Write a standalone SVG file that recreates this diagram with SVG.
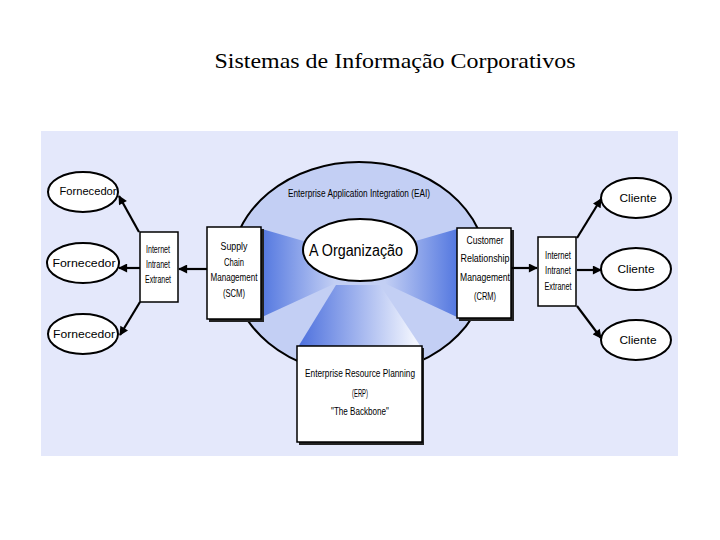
<svg xmlns="http://www.w3.org/2000/svg" width="720" height="540" viewBox="0 0 720 540">
<style>
.t{font-family:"Liberation Sans",Arial,sans-serif;font-size:11px;fill:#000;text-anchor:middle}
.box{fill:#fff;stroke:#000;stroke-width:1.5}
.sh{fill:#222}
.oval{fill:#fff;stroke:#000;stroke-width:2}
.con{stroke:#000;stroke-width:2.2;fill:none;marker-end:url(#ah)}
</style>
<defs>
<marker id="ah" viewBox="0 0 10 10" refX="9" refY="5" markerWidth="10" markerHeight="9" markerUnits="userSpaceOnUse" orient="auto">
<path d="M0,0 L10,5 L0,10 z" fill="#000"/>
</marker>
<linearGradient id="gl" gradientUnits="userSpaceOnUse" x1="262" y1="0" x2="335" y2="0">
<stop offset="0" stop-color="#5478e0"/><stop offset="1" stop-color="#c3cff4"/>
</linearGradient>
<linearGradient id="gr" gradientUnits="userSpaceOnUse" x1="385" y1="0" x2="457" y2="0">
<stop offset="0" stop-color="#c3cff4"/><stop offset="1" stop-color="#5478e0"/>
</linearGradient>
<linearGradient id="gb" gradientUnits="userSpaceOnUse" x1="300" y1="0" x2="415" y2="0">
<stop offset="0" stop-color="#4f72de"/><stop offset="1" stop-color="#f2f5fe"/>
</linearGradient>
</defs>
<text x="395" y="68" font-family="'Liberation Serif','Times New Roman',serif" font-size="21" text-anchor="middle" textLength="361" lengthAdjust="spacingAndGlyphs">Sistemas de Informação Corporativos</text>
<rect x="41" y="131" width="637" height="325" fill="#e4e8fb"/>
<g id="eai">
<ellipse cx="359" cy="268" rx="128" ry="106" fill="#c3cff4" stroke="#000" stroke-width="2"/>
<polygon points="262,229 262,317 336,283 307,242" fill="url(#gl)"/>
<polygon points="457,229 457,317 384,283 412,242" fill="url(#gr)"/>
<polygon points="298,347 421,347 380,285 336,285" fill="url(#gb)"/>
<text class="t" x="359" y="197" textLength="142" lengthAdjust="spacingAndGlyphs">Enterprise Application Integration (EAI)</text>
</g>
<g id="org">
<ellipse class="oval" cx="360" cy="250" rx="57" ry="31"/>
<text x="356" y="256" font-family="'Liberation Sans',Arial,sans-serif" font-size="16" text-anchor="middle" textLength="94" lengthAdjust="spacingAndGlyphs">A Organização</text>
</g>
<g id="scm">
<rect class="sh" x="209" y="229" width="55" height="93"/>
<rect class="box" x="207" y="227" width="54" height="92"/>
<text class="t" x="234" y="250" textLength="27" lengthAdjust="spacingAndGlyphs">Supply</text>
<text class="t" x="234" y="266" textLength="20" lengthAdjust="spacingAndGlyphs">Chain</text>
<text class="t" x="234" y="281" textLength="47" lengthAdjust="spacingAndGlyphs">Management</text>
<text class="t" x="234" y="297" textLength="22" lengthAdjust="spacingAndGlyphs">(SCM)</text>
</g>
<g id="crm">
<rect class="sh" x="459" y="230" width="55" height="91"/>
<rect class="box" x="457" y="228" width="54" height="90"/>
<text class="t" x="485" y="244" textLength="37" lengthAdjust="spacingAndGlyphs">Customer</text>
<text class="t" x="485" y="262" textLength="49" lengthAdjust="spacingAndGlyphs">Relationship</text>
<text class="t" x="485" y="281" textLength="50" lengthAdjust="spacingAndGlyphs">Management</text>
<text class="t" x="485" y="300" textLength="22" lengthAdjust="spacingAndGlyphs">(CRM)</text>
</g>
<g id="erp">
<rect class="sh" x="299" y="348" width="125" height="97"/>
<rect class="box" x="297" y="346" width="125" height="96"/>
<text class="t" x="360" y="377" textLength="110" lengthAdjust="spacingAndGlyphs">Enterprise Resource Planning</text>
<text class="t" x="360" y="397" textLength="16" lengthAdjust="spacingAndGlyphs">(ERP)</text>
<text class="t" x="360" y="415" textLength="58" lengthAdjust="spacingAndGlyphs">"The Backbone"</text>
</g>
<g id="net-left">
<rect class="box" x="140" y="232" width="38" height="70"/>
<text class="t" x="158" y="253" textLength="24" lengthAdjust="spacingAndGlyphs">Internet</text>
<text class="t" x="158" y="268" textLength="24" lengthAdjust="spacingAndGlyphs">Intranet</text>
<text class="t" x="158" y="283" textLength="26" lengthAdjust="spacingAndGlyphs">Extranet</text>
</g>
<g id="net-right">
<rect class="box" x="538" y="237" width="38" height="69"/>
<text class="t" x="558" y="259" textLength="26" lengthAdjust="spacingAndGlyphs">Internet</text>
<text class="t" x="558" y="274" textLength="26" lengthAdjust="spacingAndGlyphs">Intranet</text>
<text class="t" x="558" y="290" textLength="27" lengthAdjust="spacingAndGlyphs">Extranet</text>
</g>
<g id="fornecedor-1">
<ellipse class="oval" cx="83" cy="192" rx="35" ry="20"/>
<text class="t" x="88" y="195" textLength="57" lengthAdjust="spacingAndGlyphs">Fornecedor</text>
</g>
<g id="fornecedor-2">
<ellipse class="oval" cx="83" cy="263" rx="36" ry="20"/>
<text class="t" x="84" y="267" textLength="63" lengthAdjust="spacingAndGlyphs">Fornecedor</text>
</g>
<g id="fornecedor-3">
<ellipse class="oval" cx="83" cy="334" rx="35" ry="20"/>
<text class="t" x="84" y="338" textLength="62" lengthAdjust="spacingAndGlyphs">Fornecedor</text>
</g>
<g id="cliente-1">
<ellipse class="oval" cx="636" cy="198" rx="35" ry="20"/>
<text class="t" x="638" y="202" textLength="37" lengthAdjust="spacingAndGlyphs">Cliente</text>
</g>
<g id="cliente-2">
<ellipse class="oval" cx="636" cy="269" rx="35" ry="21"/>
<text class="t" x="636" y="273" textLength="37" lengthAdjust="spacingAndGlyphs">Cliente</text>
</g>
<g id="cliente-3">
<ellipse class="oval" cx="636" cy="340" rx="35" ry="20"/>
<text class="t" x="638" y="344" textLength="37" lengthAdjust="spacingAndGlyphs">Cliente</text>
</g>
<g id="connectors">
<line class="con" x1="207" y1="269" x2="179" y2="269"/>
<line class="con" x1="140" y1="268" x2="119" y2="268"/>
<line class="con" x1="139" y1="232" x2="119" y2="196"/>
<line class="con" x1="140" y1="302" x2="120" y2="335"/>
<line class="con" x1="511" y1="268" x2="537" y2="268"/>
<line class="con" x1="577" y1="270" x2="601" y2="270"/>
<line class="con" x1="577" y1="238" x2="601" y2="199"/>
<line class="con" x1="577" y1="306" x2="601" y2="338"/>
</g>
</svg>
